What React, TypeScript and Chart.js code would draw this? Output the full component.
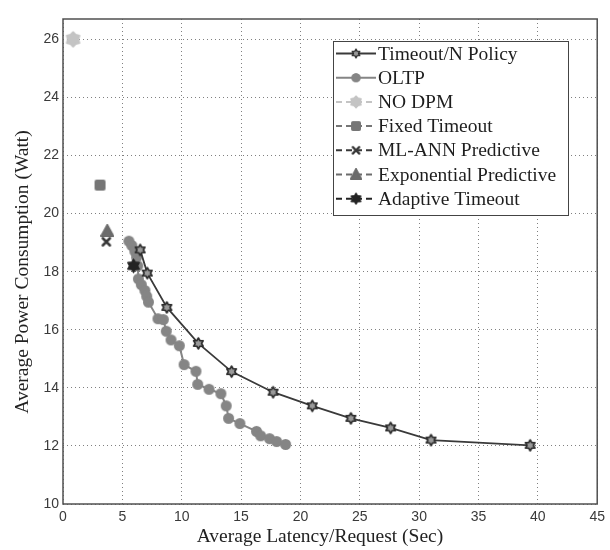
import React, { useEffect, useRef } from "react";
import { Chart, registerables } from "chart.js";

Chart.register(...registerables);

// ---- data ----
const timeoutNX = [6.5, 7.1, 8.75, 11.4, 14.2, 17.7, 21.0, 24.25, 27.6, 31.0, 39.35];
const timeoutNY = [18.75, 17.95, 16.77, 15.53, 14.56, 13.85, 13.38, 12.95, 12.62, 12.2, 12.02];

const oltpX = [5.55, 5.8, 6.05, 6.2, 6.3, 6.35, 6.6, 6.9, 7.05, 7.2, 8.0, 8.45, 8.7, 9.1, 9.8, 10.2, 11.2, 11.35, 12.3, 13.3, 13.75, 13.95, 14.9, 16.3, 16.65, 17.4, 18.0, 18.75];
const oltpY = [19.05, 18.9, 18.7, 18.5, 18.2, 17.75, 17.55, 17.35, 17.15, 16.95, 16.38, 16.35, 15.95, 15.65, 15.45, 14.8, 14.57, 14.12, 13.95, 13.8, 13.38, 12.95, 12.77, 12.5, 12.35, 12.25, 12.15, 12.05];

const noDpmX = [0.85];
const noDpmY = [26.0];
const fixedX = [3.12];
const fixedY = [20.98];
const mlAnnX = [3.65];
const mlAnnY = [19.03];
const expX = [3.73];
const expY = [19.4];
const adaptiveX = [5.94];
const adaptiveY = [18.2];

const seriesLabels = [
  "Timeout/N Policy",
  "OLTP",
  "NO DPM",
  "Fixed Timeout",
  "ML-ANN Predictive",
  "Exponential Predictive",
  "Adaptive Timeout",
];

const xTitle = "Average Latency/Request (Sec)";
const yTitle = "Average Power Consumption (Watt)";
const xMin = 0, xMax = 45, xStep = 5;
const yMin = 10, yMax = 26.7, yStep = 2;

const toPts = (xs: number[], ys: number[]) => xs.map((x, i) => ({ x, y: ys[i] }));

// ---- marker images ----
function makeCanvas(size: number) {
  const c = document.createElement("canvas");
  c.width = size;
  c.height = size;
  const ctx = c.getContext("2d")!;
  ctx.translate(size / 2, size / 2);
  return { c, ctx };
}
function starMarker(n: number, outer: number, innerRatio: number, fill: string, stroke: string, lw: number) {
  const size = Math.ceil(outer * 2 + lw + 2);
  const { c, ctx } = makeCanvas(size);
  ctx.beginPath();
  for (let i = 0; i < n * 2; i++) {
    const r = i % 2 === 0 ? outer : outer * innerRatio;
    const a = -Math.PI / 2 + (i * Math.PI) / n;
    const px = Math.cos(a) * r, py = Math.sin(a) * r;
    if (i === 0) ctx.moveTo(px, py); else ctx.lineTo(px, py);
  }
  ctx.closePath();
  ctx.fillStyle = fill;
  ctx.fill();
  if (lw > 0) {
    ctx.lineWidth = lw;
    ctx.strokeStyle = stroke;
    ctx.lineJoin = "round";
    ctx.stroke();
  }
  return c;
}
function circleMarker(r: number, fill: string) {
  const { c, ctx } = makeCanvas(Math.ceil(r * 2 + 2));
  ctx.beginPath();
  ctx.arc(0, 0, r, 0, Math.PI * 2);
  ctx.fillStyle = fill;
  ctx.fill();
  return c;
}
function squareMarker(s: number, fill: string) {
  const { c, ctx } = makeCanvas(Math.ceil(s + 2));
  const h = s / 2, rr = 2;
  ctx.beginPath();
  ctx.moveTo(-h + rr, -h);
  ctx.arcTo(h, -h, h, h, rr);
  ctx.arcTo(h, h, -h, h, rr);
  ctx.arcTo(-h, h, -h, -h, rr);
  ctx.arcTo(-h, -h, h, -h, rr);
  ctx.closePath();
  ctx.fillStyle = fill;
  ctx.fill();
  return c;
}
function triangleMarker(w: number, fill: string) {
  const { c, ctx } = makeCanvas(Math.ceil(w + 2));
  const h = w / 2;
  ctx.beginPath();
  ctx.moveTo(0, -h);
  ctx.lineTo(h, h * 0.85);
  ctx.lineTo(-h, h * 0.85);
  ctx.closePath();
  ctx.fillStyle = fill;
  ctx.lineJoin = "round";
  ctx.lineWidth = 2;
  ctx.strokeStyle = fill;
  ctx.fill();
  ctx.stroke();
  return c;
}
function xMarker(s: number, color: string, lw: number) {
  const { c, ctx } = makeCanvas(Math.ceil(s + lw + 2));
  const h = s / 2;
  ctx.beginPath();
  ctx.moveTo(-h, -h); ctx.lineTo(h, h);
  ctx.moveTo(h, -h); ctx.lineTo(-h, h);
  ctx.strokeStyle = color;
  ctx.lineWidth = lw;
  ctx.lineCap = "round";
  ctx.stroke();
  return c;
}

const C_TN = "#3a3a3a";
const C_OLTP = "#858585";
const C_NODPM = "#c4c4c4";
const C_FIXED = "#767676";
const C_ML = "#383838";
const C_EXP = "#6c6c6c";
const C_AD = "#232323";

export default function App() {
  const ref = useRef<HTMLCanvasElement | null>(null);

  useEffect(() => {
    if (!ref.current) return;
    const mTN = starMarker(6, 5.5, 0.577, "#9a9a9a", "#2a2a2a", 1.6);
    const mOLTP = circleMarker(5.5, C_OLTP);
    const mNODPM = starMarker(6, 7.5, 0.72, C_NODPM, C_NODPM, 1.5);
    const mFIXED = squareMarker(11, C_FIXED);
    const mML = xMarker(7, C_ML, 2.6);
    const mEXP = triangleMarker(12, C_EXP);
    const mAD = starMarker(6, 7, 0.62, C_AD, C_AD, 1);

    const legendSpec = [
      { color: C_TN, dash: [] as number[], marker: mTN, scale: 0.8 },
      { color: C_OLTP, dash: [], marker: mOLTP, scale: 0.85 },
      { color: C_NODPM, dash: [6, 4], marker: mNODPM, scale: 0.8 },
      { color: C_FIXED, dash: [6, 4], marker: mFIXED, scale: 0.9 },
      { color: C_ML, dash: [6, 4], marker: mML, scale: 0.9 },
      { color: C_EXP, dash: [6, 4], marker: mEXP, scale: 0.9 },
      { color: C_AD, dash: [6, 4], marker: mAD, scale: 0.85 },
    ];

    const framePlugin = {
      id: "frameAndLegend",
      afterDraw(chart: any) {
        const { ctx, chartArea: a } = chart;
        ctx.save();
        ctx.strokeStyle = "#505050";
        ctx.lineWidth = 1.5;
        ctx.strokeRect(a.left, a.top, a.right - a.left, a.bottom - a.top);

        // axis titles
        ctx.fillStyle = "#222";
        ctx.font = '19.5px "Liberation Serif"';
        ctx.textAlign = "center";
        ctx.textBaseline = "middle";
        ctx.fillText(xTitle, 320, 537);
        ctx.save();
        ctx.translate(23, 272);
        ctx.rotate(-Math.PI / 2);
        ctx.fillText(yTitle, 0, 0);
        ctx.restore();

        // legend box
        const bx = 333, by = 41, bw = 235, bh = 174;
        ctx.fillStyle = "#ffffff";
        ctx.fillRect(bx, by, bw, bh);
        ctx.strokeStyle = "#444444";
        ctx.lineWidth = 1;
        ctx.strokeRect(bx + 0.5, by + 0.5, bw, bh);
        const rowY0 = 53.5, rowStep = 24.2;
        ctx.font = '19.5px "Liberation Serif"';
        ctx.textBaseline = "middle";
        ctx.textAlign = "left";
        chart.data.datasets.forEach((ds: any, i: number) => {
          const spec = legendSpec[i];
          const y = rowY0 + i * rowStep;
          ctx.beginPath();
          ctx.setLineDash(spec.dash);
          ctx.strokeStyle = spec.color;
          ctx.lineWidth = 2;
          ctx.moveTo(336, y);
          ctx.lineTo(376, y);
          ctx.stroke();
          ctx.setLineDash([]);
          const m = spec.marker;
          const w = m.width * spec.scale, h = m.height * spec.scale;
          ctx.drawImage(m, 356 - w / 2, y - h / 2, w, h);
          ctx.fillStyle = "#1e1e1e";
          ctx.fillText(ds.label, 378, y + 1);
        });
        ctx.restore();
      },
    };

    const chart = new Chart(ref.current, {
      type: "scatter",
      data: {
        datasets: [
          {
            label: seriesLabels[0],
            data: toPts(timeoutNX, timeoutNY),
            showLine: true,
            borderColor: C_TN,
            borderWidth: 1.8,
            pointStyle: mTN,
            pointRadius: 5,
            order: 2,
          },
          {
            label: seriesLabels[1],
            data: toPts(oltpX, oltpY),
            showLine: true,
            borderColor: C_OLTP,
            borderWidth: 2,
            pointStyle: mOLTP,
            pointRadius: 5,
            order: 3,
          },
          { label: seriesLabels[2], data: toPts(noDpmX, noDpmY), pointStyle: mNODPM, pointRadius: 5, order: 1 },
          { label: seriesLabels[3], data: toPts(fixedX, fixedY), pointStyle: mFIXED, pointRadius: 5, order: 1 },
          { label: seriesLabels[4], data: toPts(mlAnnX, mlAnnY), pointStyle: mML, pointRadius: 5, order: 1 },
          { label: seriesLabels[5], data: toPts(expX, expY), pointStyle: mEXP, pointRadius: 5, order: 1 },
          { label: seriesLabels[6], data: toPts(adaptiveX, adaptiveY), pointStyle: mAD, pointRadius: 5, order: 0 },
        ],
      },
      options: {
        responsive: false,
        animation: false,
        devicePixelRatio: 1,
        layout: { padding: { top: 19, right: 4, left: 0, bottom: 0 } },
        plugins: { legend: { display: false }, tooltip: { enabled: false } },
        scales: {
          x: {
            type: "linear",
            min: xMin,
            max: xMax,
            ticks: { stepSize: xStep, padding: 5, color: "#3a3a3a", font: { family: "Liberation Sans", size: 14 } },
            grid: { color: "#808080", lineWidth: 1, drawTicks: false },
            border: { display: false, dash: [1, 3] },
            title: { display: false },
            afterFit(scale: any) {
              scale.height = 46;
            },
          },
          y: {
            type: "linear",
            min: yMin,
            max: yMax,
            ticks: { stepSize: yStep, padding: 4, includeBounds: false, color: "#3a3a3a", font: { family: "Liberation Sans", size: 14 } },
            grid: { color: "#808080", lineWidth: 1, drawTicks: false },
            border: { display: false, dash: [1, 3] },
            title: { display: false },
            afterFit(scale: any) {
              scale.width = 63;
            },
          },
        },
      },
      plugins: [framePlugin],
    } as any);
    return () => chart.destroy();
  }, []);

  return (
    <div style={{ position: "absolute", left: 0, top: 0, width: 610, height: 550, background: "#fff" }}>
      <canvas ref={ref} width={610} height={550} style={{ display: "block" }} />
    </div>
  );
}
